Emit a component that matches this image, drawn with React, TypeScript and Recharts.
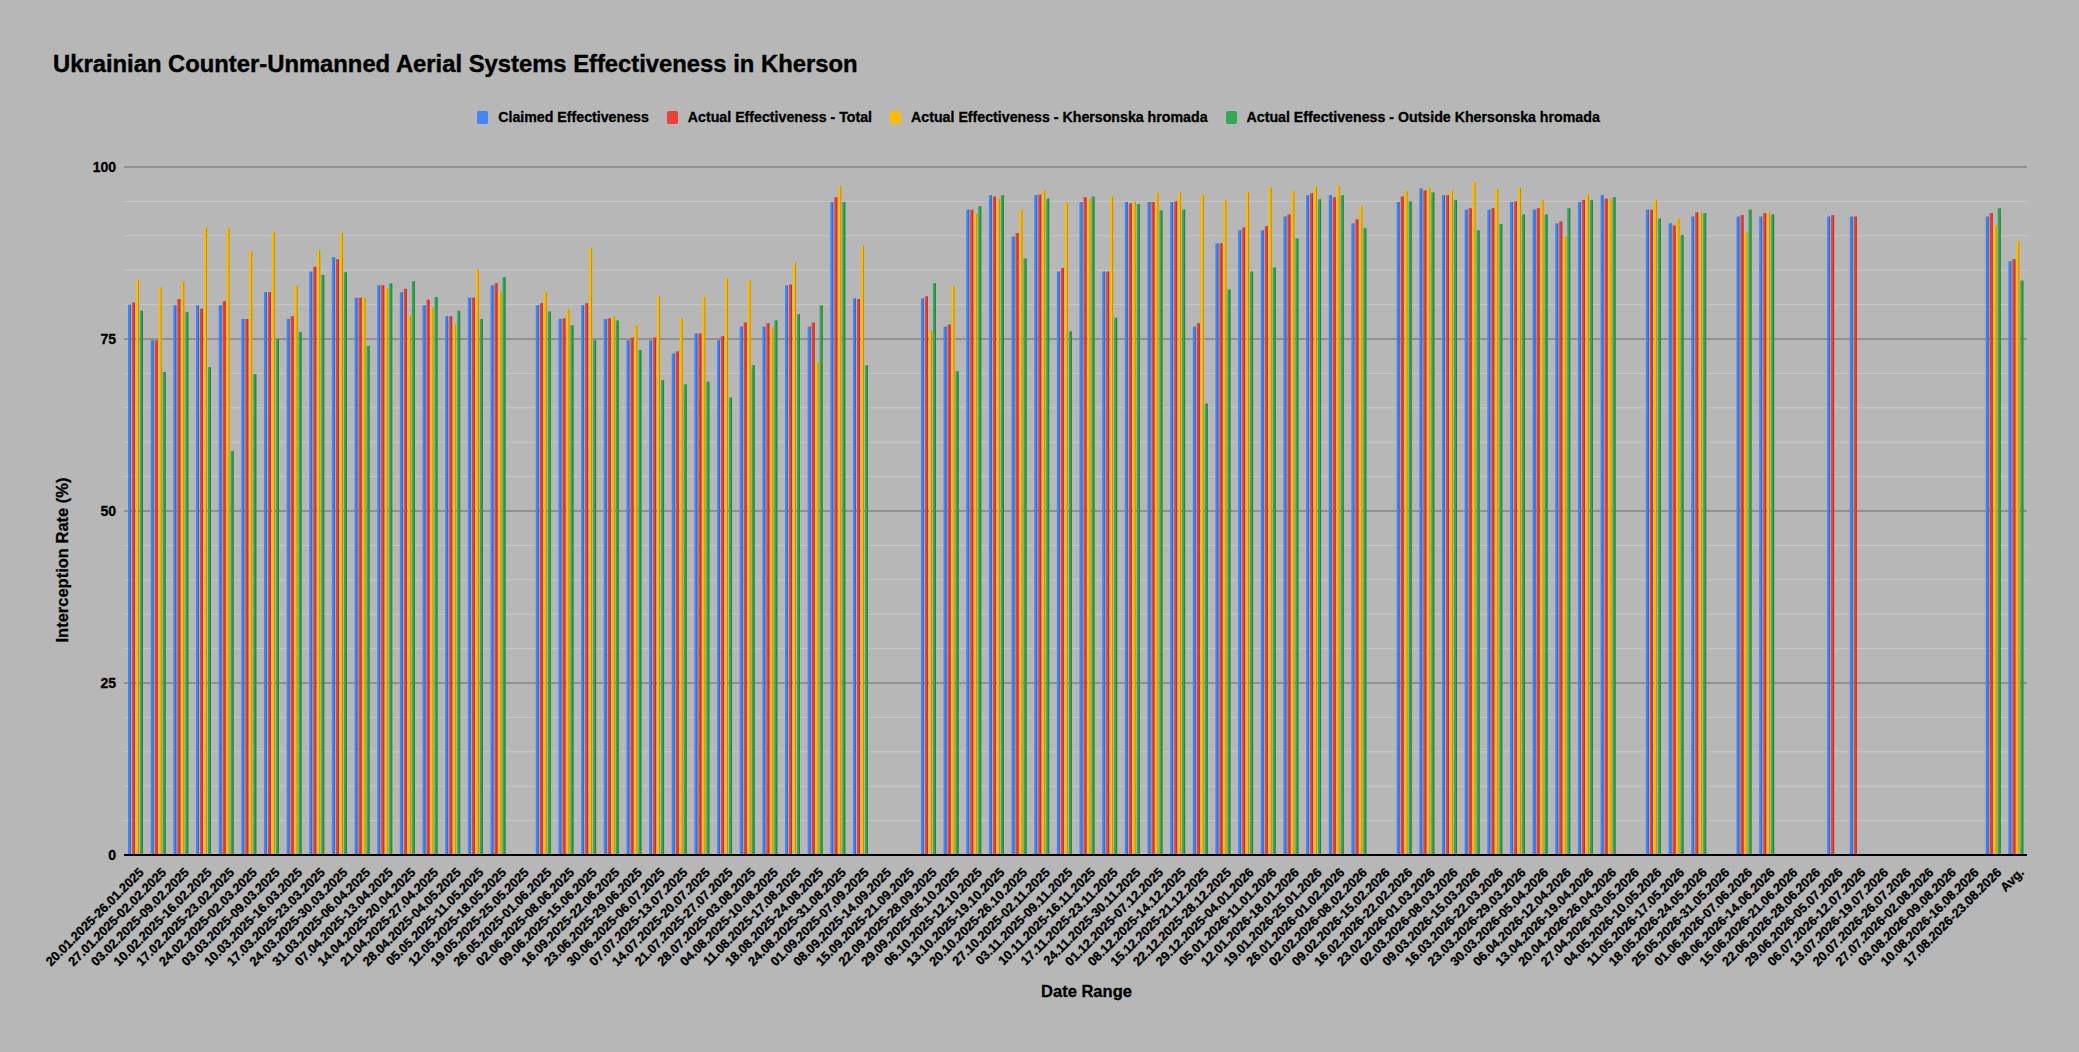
import { BarChart, Bar, XAxis, YAxis, CartesianGrid } from "recharts";

const CATEGORIES = [
  "20.01.2025-26.01.2025", "27.01.2025-02.02.2025", "03.02.2025-09.02.2025", "10.02.2025-16.02.2025",
  "17.02.2025-23.02.2025", "24.02.2025-02.03.2025", "03.03.2025-09.03.2025", "10.03.2025-16.03.2025",
  "17.03.2025-23.03.2025", "24.03.2025-30.03.2025", "31.03.2025-06.04.2025", "07.04.2025-13.04.2025",
  "14.04.2025-20.04.2025", "21.04.2025-27.04.2025", "28.04.2025-04.05.2025", "05.05.2025-11.05.2025",
  "12.05.2025-18.05.2025", "19.05.2025-25.05.2025", "26.05.2025-01.06.2025", "02.06.2025-08.06.2025",
  "09.06.2025-15.06.2025", "16.09.2025-22.06.2025", "23.06.2025-29.06.2025", "30.06.2025-06.07.2025",
  "07.07.2025-13.07.2025", "14.07.2025-20.07.2025", "21.07.2025-27.07.2025", "28.07.2025-03.08.2025",
  "04.08.2025-10.08.2025", "11.08.2025-17.08.2025", "18.08.2025-24.08.2025", "24.08.2025-31.08.2025",
  "01.09.2025-07.09.2025", "08.09.2025-14.09.2025", "15.09.2025-21.09.2025", "22.09.2025-28.09.2025",
  "29.09.2025-05.10.2025", "06.10.2025-12.10.2025", "13.10.2025-19.10.2025", "20.10.2025-26.10.2025",
  "27.10.2025-02.11.2025", "03.11.2025-09.11.2025", "10.11.2025-16.11.2025", "17.11.2025-23.11.2025",
  "24.11.2025-30.11.2025", "01.12.2025-07.12.2025", "08.12.2025-14.12.2025", "15.12.2025-21.12.2025",
  "22.12.2025-28.12.2025", "29.12.2025-04.01.2026", "05.01.2026-11.01.2026", "12.01.2026-18.01.2026",
  "19.01.2026-25.01.2026", "26.01.2026-01.02.2026", "02.02.2026-08.02.2026", "09.02.2026-15.02.2026",
  "16.02.2026-22.02.2026", "23.02.2026-01.03.2026", "02.03.2026-08.03.2026", "09.03.2026-15.03.2026",
  "16.03.2026-22.03.2026", "23.03.2026-29.03.2026", "30.03.2026-05.04.2026", "06.04.2026-12.04.2026",
  "13.04.2026-19.04.2026", "20.04.2026-26.04.2026", "27.04.2026-03.05.2026", "04.05.2026-10.05.2026",
  "11.05.2026-17.05.2026", "18.05.2026-24.05.2026", "25.05.2026-31.05.2026", "01.06.2026-07.06.2026",
  "08.06.2026-14.06.2026", "15.06.2026-21.06.2026", "22.06.2026-28.06.2026", "29.06.2026-05.07.2026",
  "06.07.2026-12.07.2026", "13.07.2026-19.07.2026", "20.07.2026-26.07.2026", "27.07.2026-02.08.2026",
  "03.08.2026-09.08.2026", "10.08.2026-16.08.2026", "17.08.2026-23.08.2026", "Avg.",
];

const CLAIMED = [
  80, 74.8, 79.9, 79.9, 79.9, 77.9, 81.8, 77.9, 84.8, 86.9, 81, 82.8, 81.8, 79.9, 78.3, 81, 82.8, null,
  79.9, 77.9, 79.9, 77.9, 74.8, 74.8, 72.9, 75.8, 74.8, 76.8, 76.8, 82.8, 76.8, 94.9, 80.9, null, null,
  80.9, 76.8, 93.8, 95.9, 89.9, 95.9, 84.8, 94.9, 84.8, 94.9, 94.9, 94.9, 76.8, 88.9, 90.8, 90.8, 92.8,
  95.9, 95.9, 91.8, null, 94.9, 96.9, 95.9, 93.8, 93.8, 94.9, 93.8, 91.8, 94.9, 95.9, null, 93.8, 91.8,
  92.8, null, 92.8, 92.8, null, null, 92.8, 92.8, null, null, null, null, null, 92.8, 86.3,
];

const ACTUAL_TOTAL = [
  80.3, 74.8, 80.8, 79.4, 80.5, 77.9, 81.8, 78.3, 85.5, 86.6, 81, 82.8, 82.3, 80.7, 78.3, 81, 83.1, null,
  80.2, 78, 80.2, 78, 75.2, 75.2, 73.2, 75.8, 75.4, 77.4, 77.3, 82.9, 77.4, 95.6, 80.8, null, null,
  81.2, 77.1, 93.8, 95.7, 90.4, 96, 85.3, 95.6, 84.8, 94.7, 94.9, 95, 77.3, 88.9, 91.2, 91.4, 93.1,
  96.2, 95.6, 92.4, null, 95.7, 96.6, 95.9, 94, 94, 95, 94, 92.1, 95.2, 95.4, null, 93.8, 91.5,
  93.4, null, 93, 93.3, null, null, 93, 92.8, null, null, null, null, null, 93.3, 86.6,
];

const ACTUAL_KHERSONSKA = [
  83.6, 82.5, 83.3, 91.2, 91.1, 87.7, 90.6, 82.7, 87.9, 90.4, 81, 82.4, 78.4, 79.6, 77.2, 85.1, 81.8, null,
  81.9, 79.3, 88.2, 78.3, 77, 81.2, 78, 81.1, 83.8, 83.5, 76.7, 86.1, 71.6, 97.3, 88.5, null, null,
  76.3, 82.7, 93.3, 95.4, 93.8, 96.6, 94.9, 95.3, 95.7, 95, 96.2, 96.3, 96, 95.2, 96.3, 97, 96.5,
  97.2, 97.3, 94.3, null, 96.5, 97, 96.6, 97.8, 96.8, 97, 95.2, 89.9, 96, 95.3, null, 95.2, 92.5,
  93.4, null, 90.5, 93.4, null, null, null, null, null, null, null, null, null, 91.5, 89.2,
];

const ACTUAL_OUTSIDE = [
  79.1, 70.2, 78.9, 70.9, 58.7, 69.9, 75, 76, 84.3, 84.7, 74, 83.1, 83.4, 81.1, 79.1, 77.9, 84, null,
  79, 77, 74.8, 77.7, 73.4, 69, 68.4, 68.8, 66.5, 71.2, 77.7, 78.6, 79.9, 94.9, 71.2, null, null,
  83.1, 70.3, 94.3, 95.9, 86.7, 95.4, 76.1, 95.7, 78.1, 94.6, 93.7, 93.8, 65.6, 82.2, 84.8, 85.4, 89.6,
  95.3, 95.9, 91.1, null, 95, 96.3, 95.2, 90.8, 91.7, 93.1, 93.1, 94, 95.2, 95.6, null, 92.5, 90.1,
  93.3, null, 93.8, 93.1, null, null, null, null, null, null, null, null, null, 94, 83.5,
];

const MAJOR_TICKS = [0, 25, 50, 75, 100];
const MINOR_TICKS = [5, 10, 15, 20, 30, 35, 40, 45, 55, 60, 65, 70, 80, 85, 90, 95];

const SERIES = [
  { key: "claimed", name: "Claimed Effectiveness", color: "#4285f4", edge: "#3566c4" },
  { key: "total", name: "Actual Effectiveness - Total", color: "#ea4335", edge: "#b8342a" },
  { key: "khersonska", name: "Actual Effectiveness - Khersonska hromada", color: "#fbbc04", edge: "#c29103" },
  { key: "outside", name: "Actual Effectiveness - Outside Khersonska hromada", color: "#34a853", edge: "#27803f" },
];

const rows = CATEGORIES.map((label, i) => ({
  label,
  claimed: CLAIMED[i],
  total: ACTUAL_TOTAL[i],
  khersonska: ACTUAL_KHERSONSKA[i],
  outside: ACTUAL_OUTSIDE[i],
}));

const FONT = "'Liberation Sans', Arial, sans-serif";

const makeShape = (color: string, edge: string) => (props: any) => {
  const { x, y, width, height } = props;
  if (!height || height <= 0) return <g />;
  return (
    <g>
      <rect x={x} y={y} width={width} height={height} fill={color} />
      <rect x={x + width - 1} y={y} width={1} height={height} fill={edge} />
    </g>
  );
};

const XTick = ({ x, y, payload }: any) => (
  <text
    x={x + 6}
    y={y + 7}
    transform={`rotate(-45 ${x + 6} ${y + 7})`}
    textAnchor="end"
    dominantBaseline="central"
    fontFamily={FONT}
    fontWeight={700}
    fontSize={12.8}
    fill="#000"
    stroke="#000"
    strokeWidth={0.3}
  >
    {payload.value}
  </text>
);

const YTitle = ({ viewBox }: any) => {
  const cx = viewBox.x - 2;
  const cy = viewBox.y + viewBox.height / 2 + 49;
  return (
    <text
      x={cx}
      y={cy}
      transform={`rotate(-90 ${cx} ${cy})`}
      textAnchor="middle"
      dominantBaseline="central"
      fontFamily={FONT}
      fontWeight={700}
      fontSize={16.5}
      fill="#000"
      stroke="#000"
      strokeWidth={0.3}
    >
      Interception Rate (%)
    </text>
  );
};

const XTitle = ({ viewBox }: any) => {
  const cx = viewBox.x + viewBox.width / 2 + 11;
  const cy = viewBox.y + viewBox.height - 14;
  return (
    <text
      x={cx}
      y={cy}
      textAnchor="middle"
      dominantBaseline="central"
      fontFamily={FONT}
      fontWeight={700}
      fontSize={16.5}
      fill="#000"
      stroke="#000"
      strokeWidth={0.3}
    >
      Date Range
    </text>
  );
};

export default function App() {
  return (
    <div
      style={{
        position: "absolute", left: 0, top: 0, width: 2079, height: 1052,
        background: "#b7b7b7", fontFamily: FONT, overflow: "hidden",
      }}
    >
      <div
        style={{
          position: "absolute", left: 53, top: 48, fontSize: 23.8, fontWeight: 700, color: "#000",
          lineHeight: "32px", WebkitTextStroke: "0.4px #000",
        }}
      >
        Ukrainian Counter-Unmanned Aerial Systems Effectiveness in Kherson
      </div>
      <div
        style={{
          position: "absolute", left: 8, top: 109, width: 2079, display: "flex",
          justifyContent: "center", alignItems: "center", fontSize: 14.2, fontWeight: 700, color: "#000",
          WebkitTextStroke: "0.3px #000",
        }}
      >
        {SERIES.map((s) => (
          <div key={s.key} style={{ display: "flex", alignItems: "center", marginRight: 18 }}>
            <span style={{ display: "inline-block", width: 11, height: 13, background: s.color, borderRadius: 2, marginRight: 10 }} />
            <span>{s.name}</span>
          </div>
        ))}
      </div>
      <BarChart
        width={2079}
        height={1052}
        data={rows}
        margin={{ top: 167, right: 52, left: 64, bottom: 47 }}
        barSize={3}
        barGap={1}
      >
        <CartesianGrid vertical={false} horizontalValues={MINOR_TICKS} stroke="#c8c8c8" strokeWidth={1} />
        <CartesianGrid vertical={false} horizontalValues={MAJOR_TICKS} stroke="#848484" strokeWidth={1.5} />
        <XAxis
          dataKey="label"
          interval={0}
          height={150}
          tick={<XTick />}
          tickLine={false}
          axisLine={{ stroke: "#000", strokeWidth: 2 }}
          label={<XTitle />}
        />
        <YAxis
          domain={[0, 100]}
          ticks={MAJOR_TICKS}
          width={60}
          axisLine={false}
          tickLine={false}
          tickSize={0}
          tickMargin={8}
          tick={{ fontSize: 14, fontWeight: 700, fill: "#000", fontFamily: FONT, stroke: "#000", strokeWidth: 0.3 }}
          label={<YTitle />}
        />
        {SERIES.map((s) => (
          <Bar key={s.key} dataKey={s.key} name={s.name} fill={s.color} shape={makeShape(s.color, s.edge)} isAnimationActive={false} />
        ))}
      </BarChart>
    </div>
  );
}
